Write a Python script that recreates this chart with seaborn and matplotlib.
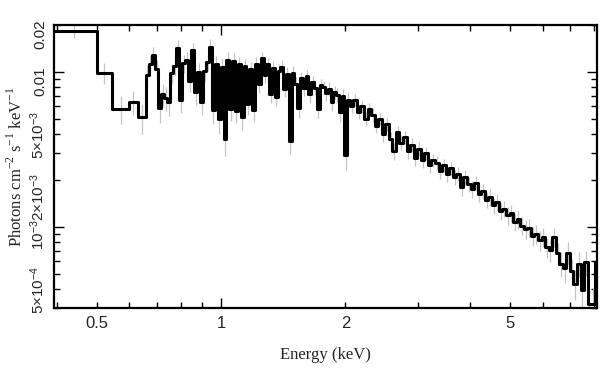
import numpy as np
import matplotlib
matplotlib.use("Agg")
import matplotlib.pyplot as plt
from matplotlib.ticker import LogLocator, FuncFormatter
import seaborn as sns

# Bin edges (keV): soft part, fine-binned middle, hard tail
edges_soft = [0.39, 0.50, 0.545, 0.599, 0.628]
edges_mid = [0.657, 0.668, 0.680, 0.692, 0.704, 0.716, 0.728, 0.740, 0.753, 0.766,
             0.779, 0.792, 0.805, 0.819, 0.833, 0.847, 0.861, 0.875, 0.890, 0.905,
             0.920, 0.935, 0.950, 0.966, 0.982, 0.998, 1.014, 1.030, 1.047, 1.064,
             1.081, 1.098, 1.116, 1.134, 1.152, 1.170, 1.189, 1.208, 1.227, 1.247,
             1.267, 1.287, 1.307, 1.328, 1.349, 1.370, 1.392, 1.414, 1.436, 1.459,
             1.482, 1.505, 1.529, 1.553, 1.577, 1.602, 1.627, 1.652, 1.678, 1.704,
             1.731, 1.758, 1.785, 1.813, 1.841, 1.870, 1.899, 1.928, 1.958, 1.988,
             2.018]
edges_hard = [2.049, 2.090, 2.132, 2.175, 2.218, 2.262, 2.307, 2.353, 2.400, 2.448,
              2.497, 2.547, 2.598, 2.650, 2.703, 2.757, 2.812, 2.868, 2.925, 2.984,
              3.044, 3.105, 3.167, 3.230, 3.295, 3.361, 3.428, 3.497, 3.567, 3.638,
              3.711, 3.785, 3.861, 3.938, 4.017, 4.097, 4.179, 4.263, 4.348, 4.435,
              4.524, 4.614, 4.706, 4.800, 4.896, 4.994, 5.094, 5.196, 5.300, 5.406,
              5.514, 5.624, 5.736, 5.851, 5.968, 6.087, 6.209, 6.333, 6.460, 6.589,
              6.72, 6.85, 6.99, 7.13, 7.27, 7.42, 7.57, 7.72, 7.87, 8.03, 8.20]

# Photons cm^-2 s^-1 keV^-1 per bin
flux_soft = [0.0184, 0.0099, 0.0058, 0.0064, 0.0051]
flux_mid = [0.0095, 0.0112, 0.0128, 0.0104, 0.0059, 0.0072, 0.0068, 0.0064, 0.0098, 0.0110,
            0.0143, 0.0066, 0.0114, 0.0119, 0.0088, 0.0138, 0.0074, 0.0100, 0.0064, 0.0102,
            0.0116, 0.0145, 0.0057, 0.0113, 0.0050, 0.0108, 0.0037, 0.0120, 0.0058, 0.0118,
            0.0056, 0.0112, 0.0051, 0.0109, 0.0062, 0.0104, 0.0057, 0.0113, 0.0084, 0.0123,
            0.0096, 0.0112, 0.0072, 0.0106, 0.0069, 0.0102, 0.0108, 0.0078, 0.0097, 0.0036,
            0.0099, 0.0084, 0.0059, 0.0091, 0.0079, 0.0094, 0.0072, 0.0086, 0.0079, 0.0058,
            0.0082, 0.0080, 0.0073, 0.0078, 0.0064, 0.0074, 0.0071, 0.0055, 0.0070, 0.0029,
            0.0066]
flux_hard = [0.0060, 0.0066, 0.0055, 0.0060, 0.0050, 0.0058, 0.0053, 0.0045, 0.0050, 0.0040,
             0.0046, 0.0037, 0.0031, 0.0041, 0.0035, 0.0038, 0.0031, 0.0034, 0.0028, 0.0032,
             0.0027, 0.0030, 0.0025, 0.0027, 0.0026, 0.0023, 0.0025, 0.0022, 0.0024, 0.0021,
             0.0022, 0.0018, 0.0021, 0.0019, 0.00176, 0.00192, 0.00164, 0.00170, 0.00150, 0.00156,
             0.00138, 0.00145, 0.00127, 0.00131, 0.00119, 0.00123, 0.00108, 0.00112, 0.00102, 0.00097,
             0.00099, 0.00088, 0.00090, 0.00082, 0.00086, 0.00074, 0.00071, 0.00086, 0.00068, 0.00058,
             0.00054, 0.00068, 0.00052, 0.00043, 0.00058, 0.00039, 0.00059, 0.00032, 0.00032, 0.00059]

# relative 1-sigma errors per bin
err_soft = [0.10, 0.16, 0.20, 0.18, 0.22]
err_mid = [0.16, 0.15, 0.14, 0.15, 0.20, 0.17, 0.18, 0.19, 0.15, 0.14,
           0.12, 0.18, 0.13, 0.13, 0.15, 0.12, 0.17, 0.14, 0.18, 0.14,
           0.13, 0.12, 0.19, 0.13, 0.20, 0.13, 0.22, 0.12, 0.17, 0.12,
           0.16, 0.12, 0.17, 0.12, 0.15, 0.12, 0.16, 0.11, 0.13, 0.10,
           0.11, 0.10, 0.13, 0.11, 0.13, 0.11, 0.10, 0.12, 0.11, 0.18,
           0.10, 0.11, 0.14, 0.10, 0.11, 0.10, 0.12, 0.10, 0.11, 0.13,
           0.10, 0.10, 0.11, 0.10, 0.12, 0.10, 0.11, 0.13, 0.11, 0.20,
           0.11]
err_hard = [0.09, 0.09, 0.10, 0.09, 0.10, 0.09, 0.10, 0.10, 0.09, 0.11,
            0.10, 0.11, 0.13, 0.10, 0.10, 0.10, 0.11, 0.10, 0.11, 0.10,
            0.11, 0.10, 0.11, 0.10, 0.10, 0.11, 0.10, 0.11, 0.10, 0.11,
            0.10, 0.12, 0.11, 0.11, 0.12, 0.11, 0.12, 0.11, 0.12, 0.12,
            0.12, 0.12, 0.13, 0.12, 0.13, 0.12, 0.13, 0.13, 0.13, 0.14,
            0.13, 0.14, 0.14, 0.15, 0.14, 0.15, 0.16, 0.14, 0.16, 0.18,
            0.19, 0.17, 0.19, 0.22, 0.18, 0.24, 0.18, 0.28, 0.27, 0.18]

X_LABELS = {0.5: "0.5", 1.0: "1", 2.0: "2", 5.0: "5"}
Y_LABELS = {0.02: "0.02", 0.01: "0.01",
            0.005: r"$\mathregular{5{\times}10^{-3}}$",
            0.002: r"$\mathregular{2{\times}10^{-3}}$",
            0.001: r"$\mathregular{10^{-3}}$",
            0.0005: r"$\mathregular{5{\times}10^{-4}}$"}

SANS = "Liberation Sans"
SERIF = "Liberation Serif"


def pick_label(table):
    def fmt(v, pos):
        for key, text in table.items():
            if abs(np.log10(v) - np.log10(key)) < 1e-3:
                return text
        return ""
    return FuncFormatter(fmt)


edges = np.array(edges_soft + edges_mid + edges_hard)
flux = np.array(flux_soft + flux_mid + flux_hard)
rel_err = np.array(err_soft + err_mid + err_hard)
centres = np.sqrt(edges[:-1] * edges[1:])

sns.set_style("ticks")
plt.rcParams["font.family"] = [SANS, "DejaVu Sans"]

fig = plt.figure(figsize=(6.09, 3.71), dpi=100)
ax = fig.add_axes([54 / 609, 63 / 371, 543 / 609, 283 / 371])

# error bars first, light grey
ax.vlines(centres, flux * (1 - rel_err), flux * (1 + rel_err),
          color="#c4c4c4", lw=0.9, zorder=1)

sns.lineplot(x=edges, y=np.append(flux, flux[-1]), ax=ax, color="black",
             lw=2.2, drawstyle="steps-post", estimator=None, sort=False, zorder=2)

ax.set_xscale("log")
ax.set_yscale("log")
ax.set_xlim(0.394, 8.13)
ax.set_ylim(3.0e-4, 0.0201)

ax.xaxis.set_major_locator(LogLocator(base=10))
ax.xaxis.set_minor_locator(LogLocator(base=10, subs=np.arange(2, 10)))
ax.yaxis.set_major_locator(LogLocator(base=10))
ax.yaxis.set_minor_locator(LogLocator(base=10, subs=np.arange(2, 10)))
for axis, table in ((ax.xaxis, X_LABELS), (ax.yaxis, Y_LABELS)):
    axis.set_major_formatter(pick_label(table))
    axis.set_minor_formatter(pick_label(table))

ax.tick_params(which="both", direction="in", top=True, right=True,
               width=1.0, pad=6, color="black")
ax.tick_params(which="major", length=7)
ax.tick_params(which="minor", length=4)
ax.tick_params(axis="x", which="both", labelsize=12)
ax.tick_params(axis="y", which="both", labelrotation=90, pad=5, labelsize=11)

for side in ax.spines.values():
    side.set_linewidth(1.6)
    side.set_color("black")

ax.set_xlabel("Energy (keV)", fontfamily=SERIF, fontsize=12, labelpad=11)
ax.set_ylabel(r"Photons cm$^{\mathregular{-2}}$ s$^{\mathregular{-1}}$ keV$^{\mathregular{-1}}$",
              fontfamily=SERIF, fontsize=12)
ax.yaxis.set_label_coords(-0.052, 0.5)

fig.savefig("out.png", dpi=100)
